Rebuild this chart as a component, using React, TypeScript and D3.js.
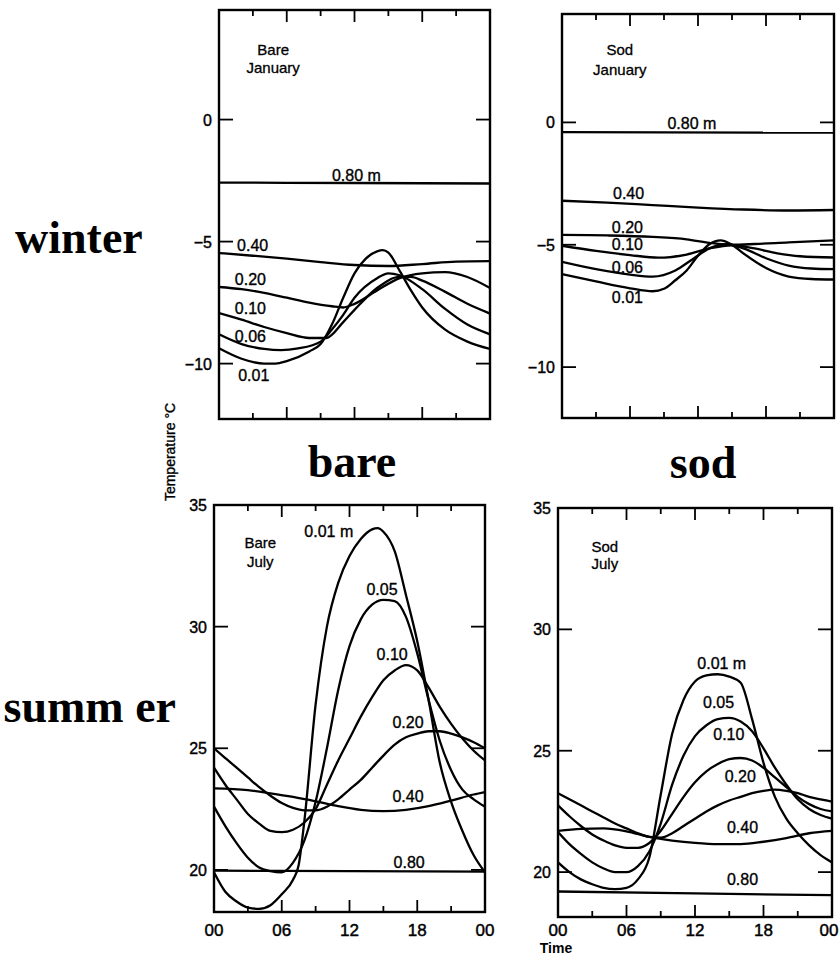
import React from 'react';
import * as d3 from 'd3';

type Pt = [number, number];

// ---------- axis values ----------
const HOUR_TICKS = [3, 6, 9, 12, 15, 18, 21];
const MAJOR_HOURS = [6, 12, 18];
const X_LABEL_HOURS = [0, 6, 12, 18, 24];
const X_LABELS = ['00', '06', '12', '18', '00'];
const JAN_Y_TICKS = [0, -5, -10];
const JUL_Y_TICKS = [35, 30, 25, 20];

// ---------- Bare, January ----------
const bareJan080: Pt[] = [[0, -2.58], [12, -2.6], [24, -2.62]];
const bareJan040: Pt[] = [[0, -5.47], [3, -5.58], [6, -5.7], [9, -5.84], [12, -5.96], [15, -6.0], [18, -5.92], [21, -5.82], [24, -5.8]];
const bareJan020: Pt[] = [[0, -6.86], [2, -6.95], [4, -7.1], [6, -7.3], [8, -7.5], [10, -7.65], [11, -7.7], [12, -7.55], [14, -7.0], [16, -6.5], [18, -6.3], [20, -6.25], [22, -6.45], [24, -6.9]];
const bareJan010: Pt[] = [[0, -7.93], [2, -8.2], [4, -8.5], [6, -8.75], [8, -8.95], [9.5, -8.95], [11, -8.3], [12, -7.8], [14, -6.9], [16, -6.45], [17, -6.45], [18, -6.6], [20, -7.05], [22, -7.55], [24, -7.95]];
const bareJan006: Pt[] = [[0, -8.8], [2, -9.2], [4, -9.4], [5.5, -9.45], [7, -9.38], [9, -9.1], [10, -8.6], [11, -8.0], [12, -7.3], [14, -6.5], [15, -6.3], [16, -6.38], [18, -6.95], [20, -7.75], [22, -8.4], [24, -8.8]];
const bareJan001: Pt[] = [[0, -9.37], [2, -9.8], [4, -10.0], [5, -10.0], [6, -9.9], [8, -9.5], [9, -9.2], [10, -8.4], [11, -7.3], [12, -6.3], [13, -5.7], [14, -5.4], [14.5, -5.35], [15, -5.45], [16, -6.2], [17, -7.0], [18, -7.7], [20, -8.6], [22, -9.1], [24, -9.4]];

// ---------- Sod, January ----------
const sodJan080: Pt[] = [[0, -0.4], [24, -0.42]];
const sodJan040: Pt[] = [[0, -3.2], [4, -3.28], [8, -3.38], [12, -3.48], [16, -3.56], [20, -3.6], [24, -3.58]];
const sodJan020: Pt[] = [[0, -4.6], [4, -4.62], [8, -4.68], [11, -4.78], [13, -4.92], [15, -5.0], [17, -4.97], [20, -4.9], [24, -4.82]];
const sodJan010: Pt[] = [[0, -5.04], [3, -5.25], [6, -5.42], [8.5, -5.53], [11, -5.4], [13, -5.15], [15, -5.02], [17, -5.15], [19, -5.35], [21, -5.47], [24, -5.52]];
const sodJan006: Pt[] = [[0, -5.7], [3, -6.0], [6, -6.22], [8, -6.3], [10, -6.05], [11.5, -5.6], [13, -5.15], [14.5, -4.98], [16, -5.15], [18, -5.55], [20, -5.85], [22, -5.97], [24, -6.0]];
const sodJan001: Pt[] = [[0, -6.2], [3, -6.5], [6, -6.78], [8, -6.9], [9, -6.8], [10, -6.45], [11, -6.05], [12, -5.45], [13, -4.98], [14, -4.82], [15, -5.0], [16, -5.35], [18, -5.95], [20, -6.3], [22, -6.4], [24, -6.42]];

// ---------- Bare, July ----------
const bareJul080: Pt[] = [[0, 19.97], [12, 19.95], [24, 19.93]];
const bareJul040: Pt[] = [[0, 23.35], [3, 23.28], [5, 23.15], [7, 23.0], [9, 22.82], [11, 22.62], [13, 22.47], [15, 22.42], [17, 22.47], [19, 22.62], [21, 22.85], [23, 23.1], [24, 23.2]];
const bareJul020: Pt[] = [[0, 25.0], [1, 24.6], [2, 24.2], [3, 23.8], [4, 23.4], [5, 23.05], [6, 22.75], [7, 22.55], [8, 22.45], [9, 22.45], [10, 22.6], [11, 22.9], [12, 23.3], [13, 23.7], [14, 24.2], [15, 24.7], [16, 25.15], [17, 25.45], [18, 25.6], [19, 25.7], [20, 25.7], [21, 25.6], [22, 25.45], [23, 25.25], [24, 25.0]];
const bareJul010: Pt[] = [[0, 24.2], [1, 23.5], [2, 22.9], [3, 22.3], [4, 21.9], [5, 21.6], [6, 21.55], [7, 21.65], [8, 21.95], [9, 22.5], [10, 23.5], [11, 24.5], [12, 25.4], [13, 26.3], [14, 27.1], [15, 27.8], [16, 28.2], [17, 28.42], [18, 28.2], [19, 27.5], [20, 26.7], [21, 26.0], [22, 25.4], [23, 24.9], [24, 24.5]];
const bareJul005: Pt[] = [[0, 22.6], [1, 21.8], [2, 21.1], [3, 20.5], [4, 20.1], [5, 19.95], [6, 19.9], [7, 20.3], [8, 21.2], [9, 22.8], [10, 25.0], [11, 27.4], [12, 29.2], [13, 30.3], [14, 30.9], [15, 31.1], [16, 31.05], [17, 30.4], [18, 28.9], [19, 27.0], [20, 25.3], [21, 24.1], [22, 23.3], [23, 22.9], [24, 22.6]];
const bareJul001: Pt[] = [[0, 19.9], [1, 19.1], [2, 18.7], [3, 18.45], [4, 18.4], [5, 18.55], [6, 19.0], [7, 19.6], [7.5, 20.2], [8, 22.0], [9, 26.8], [10, 30.0], [11, 31.8], [12, 32.9], [13, 33.6], [14, 34.0], [14.5, 34.05], [15, 33.9], [16, 33.1], [17, 31.3], [18, 29.4], [19, 27.0], [20, 24.4], [21, 22.8], [22, 21.6], [23, 20.6], [24, 19.9]];

// ---------- Sod, July ----------
const sodJul080: Pt[] = [[0, 19.2], [12, 19.12], [24, 19.05]];
const sodJul040: Pt[] = [[0, 21.7], [2, 21.78], [4, 21.8], [6, 21.68], [8, 21.45], [10, 21.3], [12, 21.2], [14, 21.15], [16, 21.15], [18, 21.25], [20, 21.4], [22, 21.6], [24, 21.7]];
const sodJul020: Pt[] = [[0, 23.25], [1, 23.0], [2, 22.75], [3, 22.5], [4, 22.25], [5, 22.0], [6, 21.8], [7, 21.6], [8, 21.45], [9, 21.42], [10, 21.6], [11, 21.9], [12, 22.2], [13, 22.5], [14, 22.75], [15, 22.95], [16, 23.1], [17, 23.25], [18, 23.35], [19, 23.4], [20, 23.35], [21, 23.25], [22, 23.1], [23, 23.0], [24, 22.9]];
const sodJul010: Pt[] = [[0, 22.75], [1, 22.3], [2, 21.9], [3, 21.55], [4, 21.3], [5, 21.1], [6, 21.0], [7, 21.0], [8, 21.2], [9, 21.7], [10, 22.4], [11, 23.1], [12, 23.7], [13, 24.15], [14, 24.45], [15, 24.65], [16, 24.7], [17, 24.6], [18, 24.3], [19, 23.9], [20, 23.5], [21, 23.1], [22, 22.8], [23, 22.6], [24, 22.5]];
const sodJul005: Pt[] = [[0, 21.65], [1, 21.15], [2, 20.75], [3, 20.4], [4, 20.15], [5, 20.0], [6, 20.0], [7, 20.25], [8, 20.85], [9, 22.0], [10, 23.6], [11, 24.8], [12, 25.6], [13, 26.05], [14, 26.3], [15, 26.35], [16, 26.2], [17, 25.8], [18, 25.1], [19, 24.3], [20, 23.6], [21, 23.0], [22, 22.6], [23, 22.35], [24, 22.2]];
const sodJul001: Pt[] = [[0, 20.4], [1, 20.0], [2, 19.7], [3, 19.5], [4, 19.35], [5, 19.3], [6, 19.35], [7, 19.7], [8, 20.6], [9, 23.2], [10, 25.7], [11, 27.1], [12, 27.85], [13, 28.1], [14, 28.15], [15, 28.05], [16, 27.8], [17, 26.3], [18, 24.5], [19, 23.1], [20, 22.2], [21, 21.6], [22, 21.1], [23, 20.7], [24, 20.4]];

// ---------- layout ----------
type Label = { text: string; h: number; t: number };
type Panel = {
  key: string;
  x0: number; x1: number; y0: number; y1: number;
  yDomain: [number, number];
  yTicks: number[];
  series: Pt[][];
  labels: Label[];
  title: [string, string];
  titleAt: [number, number, number];
  xLabels: boolean;
};

const panels: Panel[] = [
  {
    key: 'bj', x0: 219, x1: 490, y0: 10, y1: 419, yDomain: [-12.27, 4.49], yTicks: JAN_Y_TICKS,
    series: [bareJan080, bareJan040, bareJan020, bareJan010, bareJan006, bareJan001],
    labels: [
      { text: '0.80 m', h: 10.0, t: -2.52 }, { text: '0.40', h: 1.6, t: -5.39 }, { text: '0.20', h: 1.4, t: -6.78 },
      { text: '0.10', h: 1.4, t: -7.97 }, { text: '0.06', h: 1.4, t: -9.12 }, { text: '0.01', h: 1.7, t: -10.72 },
    ],
    title: ['Bare', 'January'], titleAt: [4.8, 2.64, 1.9], xLabels: false,
  },
  {
    key: 'sj', x0: 562, x1: 834, y0: 14, y1: 418, yDomain: [-12.08, 4.43], yTicks: JAN_Y_TICKS,
    series: [sodJan080, sodJan040, sodJan020, sodJan010, sodJan006, sodJan001],
    labels: [
      { text: '0.80 m', h: 9.3, t: -0.28 }, { text: '0.40', h: 4.5, t: -3.13 }, { text: '0.20', h: 4.4, t: -4.52 },
      { text: '0.10', h: 4.4, t: -5.22 }, { text: '0.06', h: 4.4, t: -6.16 }, { text: '0.01', h: 4.4, t: -7.39 },
    ],
    title: ['Sod', 'January'], titleAt: [5.1, 2.75, 1.93], xLabels: false,
  },
  {
    key: 'bl', x0: 214, x1: 485, y0: 505, y1: 912, yDomain: [18.27, 35], yTicks: JUL_Y_TICKS,
    series: [bareJul080, bareJul040, bareJul020, bareJul010, bareJul005, bareJul001],
    labels: [
      { text: '0.01 m', h: 8.0, t: 33.68 }, { text: '0.05', h: 13.5, t: 31.3 }, { text: '0.10', h: 14.4, t: 28.63 },
      { text: '0.20', h: 15.8, t: 25.83 }, { text: '0.40', h: 15.8, t: 22.79 }, { text: '0.80', h: 15.9, t: 20.08 },
    ],
    title: ['Bare', 'July'], titleAt: [4.1, 33.23, 32.45], xLabels: true,
  },
  {
    key: 'sl', x0: 558, x1: 832, y0: 508, y1: 917, yDomain: [18.15, 35], yTicks: JUL_Y_TICKS,
    series: [sodJul080, sodJul040, sodJul020, sodJul010, sodJul005, sodJul001],
    labels: [
      { text: '0.01 m', h: 12.2, t: 28.37 }, { text: '0.05', h: 12.7, t: 26.76 }, { text: '0.10', h: 13.6, t: 25.44 },
      { text: '0.20', h: 14.6, t: 23.71 }, { text: '0.40', h: 14.8, t: 21.61 }, { text: '0.80', h: 14.8, t: 19.47 },
    ],
    title: ['Sod', 'July'], titleAt: [4.1, 33.19, 32.49], xLabels: true,
  },
];

const W = 839;
const H = 968;
const SANS = '"Liberation Sans", Arial, Helvetica, sans-serif';
const SERIF = '"Liberation Serif", "Times New Roman", serif';
const fmt = d3.format('d');

function PanelView({ p }: { p: Panel }) {
  const x = d3.scaleLinear().domain([0, 24]).range([p.x0, p.x1]);
  const y = d3.scaleLinear().domain(p.yDomain).range([p.y1, p.y0]);
  const line = d3.line<Pt>().x(d => x(d[0])).y(d => y(d[1])).curve(d3.curveMonotoneX);
  return (
    <g>
      <defs>
        <clipPath id={`clip-${p.key}`}>
          <rect x={p.x0} y={p.y0} width={p.x1 - p.x0} height={p.y1 - p.y0} />
        </clipPath>
      </defs>
      <g clipPath={`url(#clip-${p.key})`}>
        {p.series.map((s, i) => (
          <path key={i} d={line(s) || ''} fill="none" stroke="#000" strokeWidth={2.3} />
        ))}
      </g>
      <rect x={p.x0} y={p.y0} width={p.x1 - p.x0} height={p.y1 - p.y0} fill="none" stroke="#000" strokeWidth={2.4} />
      {HOUR_TICKS.map(h => {
        const len = MAJOR_HOURS.includes(h) ? 12 : 6;
        return (
          <g key={h}>
            <line x1={x(h)} x2={x(h)} y1={p.y0} y2={p.y0 + len} stroke="#000" strokeWidth={1.8} />
            <line x1={x(h)} x2={x(h)} y1={p.y1} y2={p.y1 - len} stroke="#000" strokeWidth={1.8} />
          </g>
        );
      })}
      {p.yTicks.map(v => (
        <g key={v}>
          <line x1={p.x0} x2={p.x0 + 14} y1={y(v)} y2={y(v)} stroke="#000" strokeWidth={1.8} />
          <line x1={p.x1} x2={p.x1 - 14} y1={y(v)} y2={y(v)} stroke="#000" strokeWidth={1.8} />
          <text x={p.x0 - 7} y={y(v) + 6} textAnchor="end" fontSize={16} fontFamily={SANS} fill="#000" stroke="#000" strokeWidth={0.4}>
            {fmt(v)}
          </text>
        </g>
      ))}
      {p.xLabels && X_LABEL_HOURS.map((h, i) => (
        <text key={i} x={Math.min(x(h), W - 10)} y={936} textAnchor="middle" fontSize={17} fontFamily={SANS} fill="#000" stroke="#000" strokeWidth={0.45}>
          {X_LABELS[i]}
        </text>
      ))}
      {p.labels.map((l, i) => (
        <text key={i} x={x(l.h)} y={y(l.t)} fontSize={16} fontFamily={SANS} fill="#000" stroke="#000" strokeWidth={0.35}>
          {l.text}
        </text>
      ))}
      <text x={x(p.titleAt[0])} y={y(p.titleAt[1])} textAnchor="middle" fontSize={15} fontFamily={SANS} fill="#000" stroke="#000" strokeWidth={0.3}>
        {p.title[0]}
      </text>
      <text x={x(p.titleAt[0])} y={y(p.titleAt[2])} textAnchor="middle" fontSize={15} fontFamily={SANS} fill="#000" stroke="#000" strokeWidth={0.3}>
        {p.title[1]}
      </text>
    </g>
  );
}

export default function App() {
  return (
    <svg width={W} height={H} style={{ position: 'absolute', left: 0, top: 0, background: '#fff' }}>
      <rect x={0} y={0} width={W} height={H} fill="#fff" />
      {panels.map(p => <PanelView key={p.key} p={p} />)}
      <text x={15} y={253} fontSize={46} fontWeight="bold" fontFamily={SERIF} fill="#000">winter</text>
      <text x={176} y={722} textAnchor="end" fontSize={46} fontWeight="bold" fontFamily={SERIF} fill="#000">summ er</text>
      <text x={352} y={477} textAnchor="middle" fontSize={46} fontWeight="bold" fontFamily={SERIF} fill="#000">bare</text>
      <text x={703} y={478} textAnchor="middle" fontSize={46} fontWeight="bold" fontFamily={SERIF} fill="#000">sod</text>
      <text transform="translate(175,452) rotate(-90)" textAnchor="middle" fontSize={14} fontFamily={SANS} fill="#000" stroke="#000" strokeWidth={0.35}>
        Temperature  °C
      </text>
      <text x={556} y={953} textAnchor="middle" fontSize={14} fontWeight="bold" fontFamily={SANS} fill="#000">Time</text>
    </svg>
  );
}
